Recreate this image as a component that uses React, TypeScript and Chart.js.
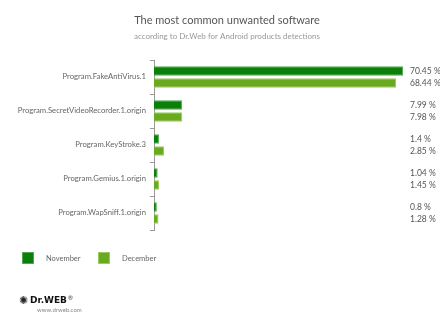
import React, { useEffect, useRef } from "react";
import { Chart, registerables } from "chart.js";

Chart.register(...registerables);

const categories = [
  "Program.FakeAntiVirus.1",
  "Program.SecretVideoRecorder.1.origin",
  "Program.KeyStroke.3",
  "Program.Gemius.1.origin",
  "Program.WapSniff.1.origin",
];
const november = [70.45, 7.99, 1.4, 1.04, 0.8];
const december = [68.44, 7.98, 2.85, 1.45, 1.28];
const novemberLabels = ["70.45 %", "7.99 %", "1.4 %", "1.04 %", "0.8 %"];
const decemberLabels = ["68.44 %", "7.98 %", "2.85 %", "1.45 %", "1.28 %"];
const seriesNames = ["November", "December"];

const NOV = "#0a800a";
const DEC = "#6aaa1e";
const FONT = "Lato, 'Open Sans', sans-serif";

const valueLabelPlugin = {
  id: "valueLabels",
  afterDatasetsDraw(chart: any) {
    const ctx = chart.ctx;
    ctx.save();
    ctx.font = `8.5px ${FONT}`;
    ctx.fillStyle = "#555";
    ctx.textAlign = "left";
    ctx.textBaseline = "middle";
    const lbls = [novemberLabels, decemberLabels];
    chart.data.datasets.forEach((_: any, di: number) => {
      const meta = chart.getDatasetMeta(di);
      meta.data.forEach((bar: any, i: number) => {
        ctx.fillText(lbls[di][i], chart.chartArea.right + 6, bar.y);
      });
    });
    ctx.restore();
  },
};

const titlePlugin = {
  id: "customTitle",
  afterDraw(chart: any) {
    const ctx = chart.ctx;
    ctx.save();
    ctx.textAlign = "center";
    ctx.textBaseline = "middle";
    ctx.fillStyle = "#555";
    ctx.font = `11px ${FONT}`;
    ctx.fillText("The most common unwanted software", 227, 20);
    ctx.fillStyle = "#999";
    ctx.font = `8px ${FONT}`;
    ctx.fillText("according to Dr.Web for Android products detections", 227, 36);
    ctx.restore();
  },
};

export default function App() {
  const ref = useRef<HTMLCanvasElement>(null);
  useEffect(() => {
    document.body.style.margin = "0";
    const chart = new Chart(ref.current!, {
      type: "bar",
      data: {
        labels: categories,
        datasets: [
          {
            label: seriesNames[0],
            data: november,
            backgroundColor: NOV,
            borderColor: "#4fa84f",
            borderWidth: 1,
          },
          {
            label: seriesNames[1],
            data: december,
            backgroundColor: DEC,
            borderColor: "#9ccb62",
            borderWidth: 1,
          },
        ],
      },
      options: {
        indexAxis: "y",
        animation: false,
        responsive: false,
        maintainAspectRatio: false,
        datasets: { bar: { categoryPercentage: 0.7, barPercentage: 0.8 } },
        layout: { padding: { left: 0, right: 36, top: 60, bottom: 94 } },
        plugins: {
          legend: { display: false },
          tooltip: { enabled: false },
          title: { display: false },
        },
        scales: {
          x: {
            min: 0,
            max: 70.7,
            display: false,
          },
          y: {
            afterFit(scale: any) {
              scale.width = 154;
            },
            border: { display: true, color: "#999", width: 1 },
            grid: {
              offset: true,
              drawOnChartArea: false,
              drawTicks: true,
              tickLength: 4,
              color: "#999",
            },
            ticks: {
              color: "#666",
              font: { family: FONT, size: 7.7 },
              padding: 4,
            },
          },
        },
      },
      plugins: [valueLabelPlugin, titlePlugin],
    });
    return () => chart.destroy();
  }, []);

  const legendItem = (left: number, color: string, border: string, text: string) => (
    <div style={{ position: "absolute", left, top: 252, display: "flex", alignItems: "center" }}>
      <div style={{ width: 10, height: 10, background: color, border: `1px solid ${border}` }} />
      <span style={{ marginLeft: 12, fontFamily: FONT, fontSize: 7.5, color: "#666" }}>{text}</span>
    </div>
  );

  return (
    <div style={{ position: "relative", width: 440, height: 324, background: "#fff" }}>
      <canvas ref={ref} width={440} height={324} style={{ position: "absolute", left: 0, top: 0 }} />
      {legendItem(22, NOV, "#4fa84f", seriesNames[0])}
      {legendItem(98, DEC, "#9ccb62", seriesNames[1])}
      <div style={{ position: "absolute", left: 19, top: 294, display: "flex", alignItems: "center" }}>
        <span style={{ fontSize: 11, lineHeight: "12px", color: "#222" }}>✺</span>
        <span style={{ marginLeft: 2, fontFamily: "'DejaVu Sans', sans-serif", fontWeight: "bold", fontSize: 9, color: "#111" }}>
          Dr.WEB
        </span>
        <span style={{ fontFamily: FONT, fontSize: 6, color: "#333", marginLeft: 1, alignSelf: "flex-start" }}>®</span>
      </div>
      <div style={{ position: "absolute", left: 37, top: 306, fontFamily: FONT, fontSize: 6, color: "#888" }}>
        www.drweb.com
      </div>
    </div>
  );
}
